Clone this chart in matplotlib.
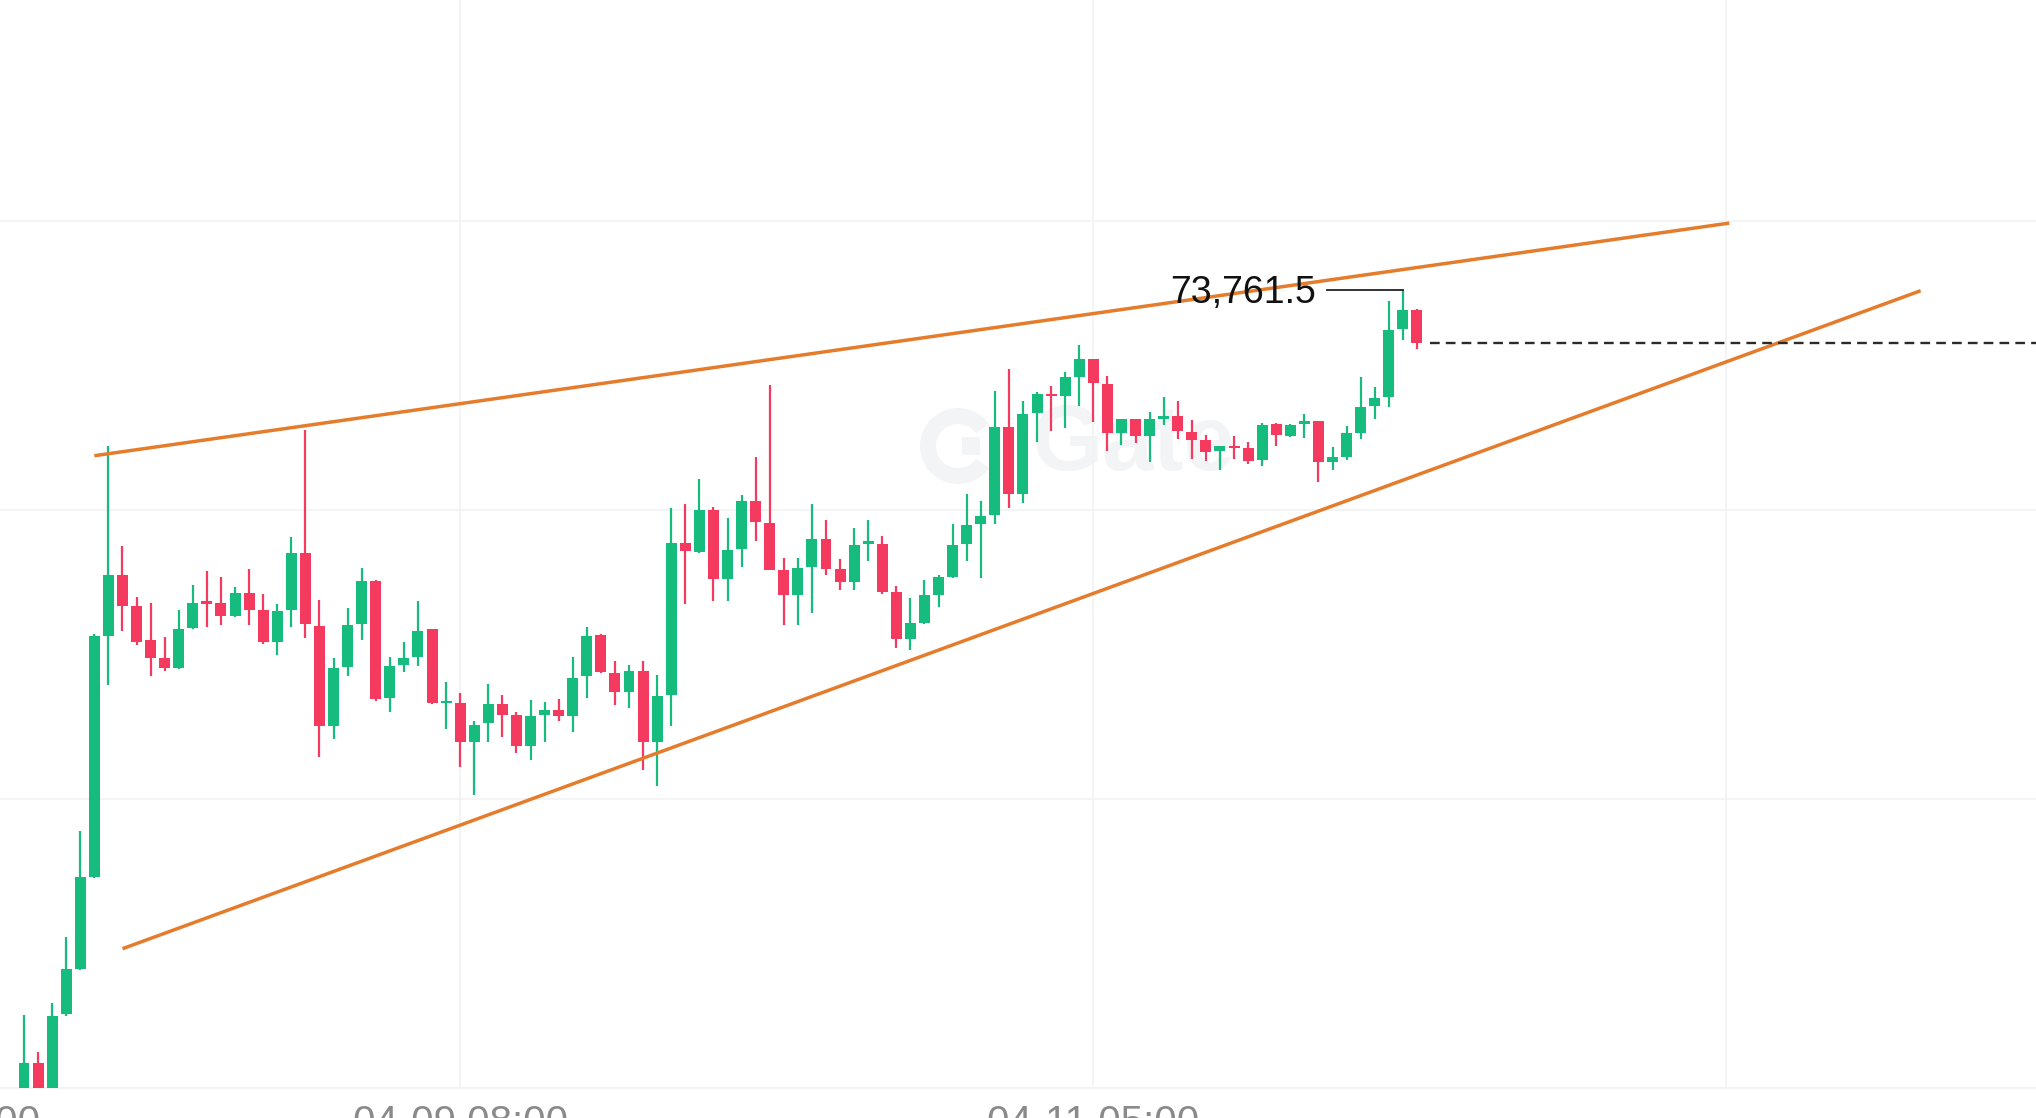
import matplotlib
matplotlib.use("Agg")
import matplotlib.pyplot as plt
import matplotlib.patches as mpatches
import matplotlib.transforms as mtransforms
import numpy as np

# hourly candles, index 0..99
opens = [
    70900, 71088, 70930, 71257, 71413, 71731, 72565, 72776, 72669, 72549,
    72488, 72453, 72592, 72686, 72680, 72632, 72713, 72653, 72545, 72653,
    72851, 72600, 72254, 72457, 72607, 72756, 72350, 72465, 72491, 72588,
    72333, 72334, 72196, 72263, 72329, 72292, 72184, 72292, 72307, 72286,
    72424, 72566, 72436, 72372, 72444, 72196, 72361, 72886, 72855, 72999,
    72761, 72865, 73030, 72955, 72791, 72707, 72803, 72900, 72796, 72750,
    72883, 72883, 72718, 72554, 72609, 72707, 72768, 72883, 72952, 72984,
    73287, 73056, 73336, 73401, 73395, 73462, 73522, 73437, 73268, 73315,
    73255, 73315, 73324, 73271, 73241, 73206, 73220, 73215, 73174, 73298,
    73257, 73298, 73307, 73165, 73185, 73268, 73361, 73391, 73626, 73693,
]
highs = [
    71254, 71126, 71295, 71524, 71890, 72572, 73222, 72877, 72700, 72680,
    72559, 72655, 72739, 72788, 72770, 72734, 72797, 72710, 72675, 72907,
    73278, 72690, 72488, 72661, 72799, 72758, 72490, 72545, 72686, 72590,
    72404, 72367, 72271, 72398, 72360, 72302, 72344, 72337, 72347, 72493,
    72597, 72572, 72476, 72465, 72479, 72430, 73007, 73022, 73107, 73012,
    72972, 73053, 73185, 73434, 72834, 72834, 73021, 72966, 72830, 72938,
    72964, 72909, 72738, 72696, 72759, 72776, 72952, 73055, 73033, 73413,
    73488, 73378, 73410, 73428, 73476, 73572, 73524, 73465, 73316, 73316,
    73341, 73390, 73376, 73312, 73260, 73223, 73255, 73237, 73301, 73301,
    73298, 73332, 73308, 73218, 73292, 73459, 73426, 73725, 73761.5, 73695,
]
lows = [
    70850, 70880, 70900, 71250, 71410, 71728, 72396, 72583, 72534, 72424,
    72442, 72451, 72588, 72597, 72603, 72630, 72603, 72537, 72499, 72595,
    72557, 72145, 72208, 72424, 72549, 72338, 72301, 72438, 72462, 72330,
    72242, 72111, 72015, 72197, 72215, 72159, 72134, 72199, 72269, 72231,
    72350, 72437, 72324, 72315, 72101, 72046, 72251, 72676, 72851, 72684,
    72684, 72803, 72894, 72791, 72603, 72603, 72644, 72776, 72724, 72724,
    72822, 72709, 72523, 72517, 72607, 72666, 72766, 72822, 72765, 72952,
    73007, 73024, 73234, 73272, 73284, 73361, 73303, 73206, 73226, 73232,
    73165, 73295, 73246, 73176, 73168, 73139, 73176, 73159, 73153, 73220,
    73254, 73249, 73096, 73137, 73174, 73246, 73315, 73356, 73587, 73557,
]
closes = [
    71088, 70930, 71250, 71413, 71731, 72565, 72776, 72669, 72545, 72488,
    72453, 72589, 72680, 72675, 72632, 72713, 72653, 72542, 72649, 72851,
    72607, 72254, 72455, 72603, 72753, 72346, 72461, 72488, 72582, 72332,
    72337, 72196, 72257, 72329, 72292, 72182, 72286, 72307, 72288, 72419,
    72565, 72439, 72372, 72444, 72196, 72355, 72886, 72859, 72999, 72761,
    72863, 73030, 72957, 72791, 72707, 72799, 72900, 72796, 72750, 72880,
    72894, 72715, 72554, 72609, 72705, 72768, 72880, 72949, 72981, 73287,
    73056, 73333, 73401, 73393, 73459, 73522, 73441, 73268, 73315, 73255,
    73315, 73324, 73275, 73241, 73201, 73220, 73215, 73168, 73295, 73260,
    73295, 73307, 73165, 73185, 73268, 73358, 73388, 73624, 73691, 73578,
]

# trend lines (candle index, price)
upper_x = [5.0, 121.2]
upper_y = [73188, 73993]
lower_x = [7.0, 134.8]
lower_y = [71482, 73759]

price_grid = [71000, 72000, 73000, 74000]
time_grid = [31, 76, 121]
label_pos = [-6.5, 31, 76]
label_txt = ["04-07 18:00", "04-09 08:00", "04-11 05:00"]

high_label = "73,761.5"
high_idx = 98
last_price = closes[-1]

GREEN = "#16BC7E"
RED = "#F43A5E"
ORANGE = "#E57C2C"
GRID = "#F1F2F4"
WATERMARK = "#F3F4F6"

W, H = 2036, 1118
AX_BOTTOM = 1088      # pixel row of the x axis
X0, DX = 24.0, 14.07  # pixel x of candle 0, candle spacing

fig = plt.figure(figsize=(W / 100, H / 100), dpi=100)
ax = fig.add_axes([0, 1 - AX_BOTTOM / H, 1, AX_BOTTOM / H])
ax.set_xlim(-X0 / DX, (W - X0) / DX)
ax.set_ylim(71000, 74765)

ax.set_yticks(price_grid)
ax.set_xticks(time_grid)
ax.grid(True, color=GRID, lw=1.2, zorder=0)
ax.tick_params(length=0, labelleft=False, labelbottom=False)
for s in ["top", "left", "right"]:
    ax.spines[s].set_visible(False)
ax.spines["bottom"].set_color(GRID)
ax.spines["bottom"].set_linewidth(1.2)

# faint watermark (logo ring + word)
wm = mtransforms.IdentityTransform()
fig.patches.append(mpatches.Wedge((958, H - 446), 38, 35, 325, width=16,
                                  facecolor=WATERMARK, edgecolor="none",
                                  transform=wm, zorder=0.5))
fig.patches.append(mpatches.Rectangle((962, H - 455), 18, 18, facecolor=WATERMARK,
                                      edgecolor="none", transform=wm, zorder=0.5))
ax.text(1133 / W, 1 - (446 - 0) / AX_BOTTOM, "Gate", transform=ax.transAxes,
        fontsize=66, fontweight="bold", family="Liberation Sans", color=WATERMARK,
        ha="center", va="center", zorder=0.5)

# candles
x = np.arange(len(opens))
o = np.array(opens, float)
c = np.array(closes, float)
hi = np.array(highs, float)
lo = np.array(lows, float)
up = c >= o
cols = np.where(up, GREEN, RED)
ax.vlines(x, lo, hi, colors=cols, lw=1.6, zorder=2)
body_h = np.maximum(np.abs(c - o), 6)
ax.bar(x, body_h, bottom=np.minimum(o, c), width=0.78, color=cols, lw=0, zorder=3)

# wedge lines
ax.plot(upper_x, upper_y, color=ORANGE, lw=2.5, solid_capstyle="butt", zorder=4)
ax.plot(lower_x, lower_y, color=ORANGE, lw=2.5, solid_capstyle="butt", zorder=4)

# last price line
ax.plot([99.9, 145], [last_price, last_price], color="#2B2B2B", lw=1.7,
        ls=(0, (4.1, 2.6)), zorder=4)

# high marker
ax.plot([92.6, high_idx], [highs[high_idx], highs[high_idx]], color="#222222", lw=1.3, zorder=5)
ax.text(91.85, 73717, high_label, ha="right", va="baseline", fontsize=27,
        family="Liberation Sans", color="#111111", zorder=5)

# time labels (cut by the bottom edge, as in the screenshot)
for pos, txt in zip(label_pos, label_txt):
    ax.text(pos, -16 / AX_BOTTOM, txt, transform=ax.get_xaxis_transform(),
            ha="center", va="top", fontsize=29, family="Liberation Sans",
            color="#8A8A8A", clip_on=False)

fig.savefig("out.png", dpi=100)
